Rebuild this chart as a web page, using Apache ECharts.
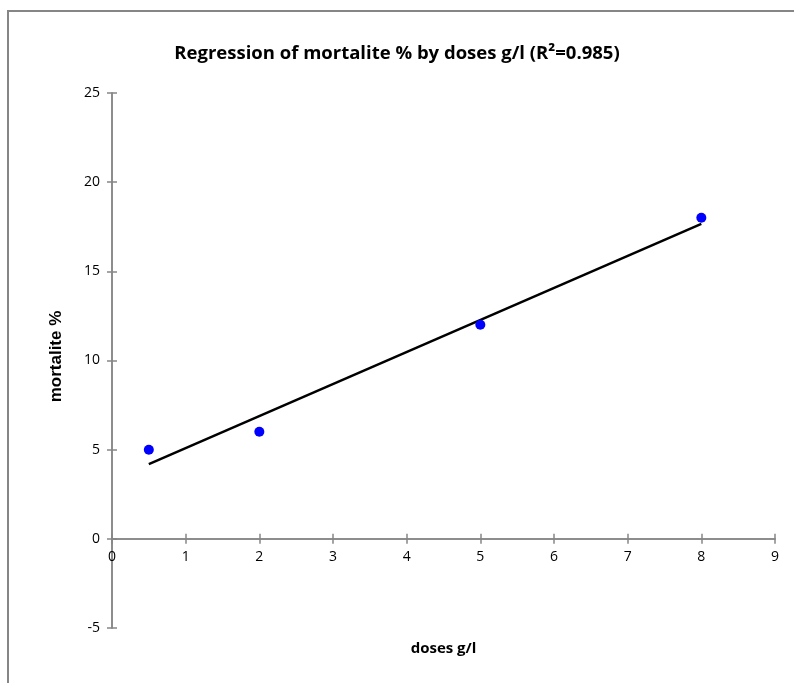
<!DOCTYPE html>
<html>
<head>
<meta charset="utf-8">
<script src="https://cdn.jsdelivr.net/npm/echarts@6/dist/echarts.min.js"></script>
<style>html,body{margin:0;padding:0;background:#fff}#c{width:794px;height:683px}</style>
</head>
<body>
<div id="c"></div>
<script>
var doses = [0.5, 2, 5, 8];
var mortalite = [5, 6, 12, 18];
var fitX = [0.5, 8];
var fitY = [4.19, 17.66];
var xTicks = [0,1,2,3,4,5,6,7,8,9];
var yTicks = [-5,0,5,10,15,20,25];

var chart = echarts.init(document.getElementById('c'));
var axisGray = '#868686';
var font = '"Open Sans", "Noto Sans", sans-serif';
var xMin = xTicks[0], xMax = xTicks[xTicks.length-1];
var yMin = yTicks[0], yMax = yTicks[yTicks.length-1];
chart.setOption({
  animation: false,
  title: {
    text: 'Regression of mortalite % by doses g/l (R²=0.985)',
    left: 'center', top: 39,
    textStyle: {fontFamily: font, fontWeight: 'bold', fontSize: 18.5, color: '#000'}
  },
  graphic: [{
    type: 'rect', shape: {x: 8, y: 11, width: 800, height: 700},
    style: {fill: 'none', stroke: axisGray, lineWidth: 2}, z: -1
  }],
  grid: {left: 112, right: 19, top: 93, bottom: 55, outerBoundsMode: 'none', containLabel: false},
  xAxis: [{
    type: 'value', min: xMin, max: xMax, interval: 1,
    name: 'doses g/l', nameLocation: 'middle', nameGap: 13,
    nameTextStyle: {fontFamily: font, fontWeight: 'bold', fontSize: 15, color: '#000'},
    axisLine: {onZero: true, lineStyle: {color: axisGray, width: 1.5}},
    axisTick: {show: true, inside: false, length: 5, lineStyle: {color: axisGray, width: 1.5}},
    axisLabel: {fontFamily: font, fontSize: 14, color: '#000', margin: -78},
    splitLine: {show: false}
  }, {
    type: 'value', min: xMin, max: xMax, interval: 1, position: 'bottom',
    axisLine: {onZero: true, lineStyle: {color: axisGray, width: 1.5}},
    axisTick: {show: true, inside: true, length: 5, lineStyle: {color: axisGray, width: 1.5}},
    axisLabel: {show: false},
    splitLine: {show: false}
  }],
  yAxis: [{
    type: 'value', min: yMin, max: yMax, interval: 5,
    name: 'mortalite %', nameLocation: 'middle', nameGap: 47, nameRotate: 90,
    nameTextStyle: {fontFamily: 'Liberation Sans, Arial, sans-serif', fontWeight: 'bold', fontSize: 17, color: '#000', padding: [0, 0, 0, 8]},
    axisLine: {onZero: true, lineStyle: {color: axisGray, width: 1.5}},
    axisTick: {show: true, length: 5, lineStyle: {color: axisGray, width: 1.5}},
    axisLabel: {fontFamily: font, fontSize: 14, color: '#000', margin: 12},
    splitLine: {show: false}
  }, {
    type: 'value', min: yMin, max: yMax, interval: 5, position: 'left', offset: 0,
    axisLine: {onZero: true, lineStyle: {color: axisGray, width: 1.5}},
    axisTick: {show: true, inside: true, length: 5, lineStyle: {color: axisGray, width: 1.5}},
    axisLabel: {show: false},
    splitLine: {show: false}
  }],
  series: [{
    type: 'line', data: fitX.map(function(x, i){return [x, fitY[i]];}),
    showSymbol: false, lineStyle: {color: '#000', width: 2.5}, z: 2
  }, {
    type: 'scatter', data: doses.map(function(x, i){return [x, mortalite[i]];}),
    symbolSize: 10, itemStyle: {color: '#0000FF', opacity: 1}, z: 3
  }]
});
</script>
</body>
</html>
